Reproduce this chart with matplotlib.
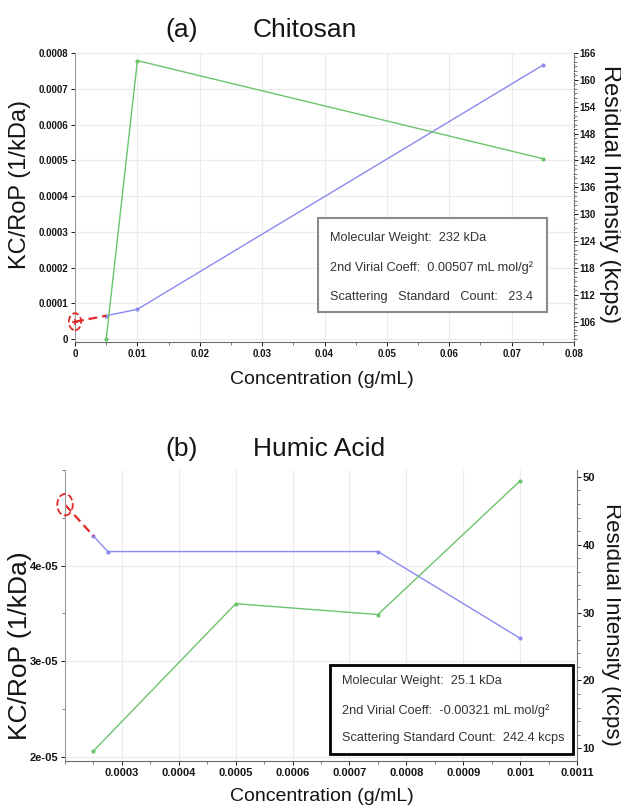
import matplotlib

matplotlib.use("Agg")
import matplotlib.pyplot as plt  # noqa: E402
from matplotlib.patches import Rectangle  # noqa: E402
from matplotlib.path import Path  # noqa: E402
from matplotlib.ticker import AutoMinorLocator  # noqa: E402
from matplotlib.transforms import Affine2D  # noqa: E402

plt.rcParams["font.family"] = ["Liberation Sans", "DejaVu Sans"]

# ---- (a) Chitosan -------------------------------------------------------
A_CONC_KC = [0.005, 0.01, 0.075]
A_KC = [0.0000652, 0.000083, 0.000766]          # KC/RoP, left axis
A_CONC_RES = [0.005, 0.01, 0.075]
A_RES = [102.1, 164.3, 142.4]                   # residual intensity, right axis
A_INTERCEPT = [0.0, 0.0000484]
A_XTICKS = [0, 0.01, 0.02, 0.03, 0.04, 0.05, 0.06, 0.07, 0.08]
A_XLABELS = ["0", "0.01", "0.02", "0.03", "0.04", "0.05", "0.06", "0.07", "0.08"]
A_YTICKS = [0, 0.0001, 0.0002, 0.0003, 0.0004, 0.0005, 0.0006, 0.0007, 0.0008]
A_YLABELS = ["0", "0.0001", "0.0002", "0.0003", "0.0004", "0.0005", "0.0006",
             "0.0007", "0.0008"]
A_RTICKS = [106, 112, 118, 124, 130, 136, 142, 148, 154, 160, 166]
A_INFO = ["Molecular Weight:  232 kDa",
          "2nd Virial Coeff:  0.00507 mL mol/g\u00b2",
          "Scattering   Standard   Count:   23.4"]

# ---- (b) Humic acid -----------------------------------------------------
B_CONC_KC = [0.00025, 0.000275, 0.00075, 0.001]
B_KC = [4.31e-05, 4.147e-05, 4.147e-05, 3.24e-05]
B_CONC_RES = [0.00025, 0.0005, 0.00075, 0.001]
B_RES = [9.6, 31.3, 29.7, 49.4]
B_INTERCEPT = [0.0002, 4.637e-05]
B_XTICKS = [0.0003, 0.0004, 0.0005, 0.0006, 0.0007, 0.0008, 0.0009, 0.001, 0.0011]
B_XLABELS = ["0.0003", "0.0004", "0.0005", "0.0006", "0.0007", "0.0008",
             "0.0009", "0.001", "0.0011"]
B_YTICKS = [2e-05, 3e-05, 4e-05]
B_YLABELS = ["2e-05", "3e-05", "4e-05"]
B_RTICKS = [10, 20, 30, 40, 50]
B_INFO = ["Molecular Weight:  25.1 kDa",
          "2nd Virial Coeff:  -0.00321 mL mol/g\u00b2",
          "Scattering Standard Count:  242.4 kcps"]

BLUE = "#8a8af0"
GREEN = "#6cc46c"
RED = "#e02a2a"
TXT = "#151515"

ELLIPSE = Path.unit_circle().transformed(Affine2D().scale(0.72, 1.0))


def style_ticks(ax, xt, xl, yt, yl, size=7):
    ax.set_xticks(xt, xl, fontsize=size, fontweight="bold")
    ax.set_yticks(yt, yl, fontsize=size, fontweight="bold")
    ax.tick_params(direction="out", length=3, width=0.7, pad=2, colors=TXT)
    ax.tick_params(which="minor", length=2, width=0.6, color="#666")
    ax.grid(True, color="#ececec", lw=0.8)
    ax.spines["top"].set_visible(False)
    ax.spines["right"].set_visible(False)
    ax.spines["left"].set_color("#9a9a9a")
    ax.spines["bottom"].set_color("#6a6a6a")


def info_box(ax, rect, text_x, text_ys, lines, edge, lw):
    x0, y0, x1, y1 = rect
    ax.add_patch(Rectangle((x0, y0), x1 - x0, y1 - y0, transform=ax.transAxes,
                           facecolor="white", edgecolor=edge, lw=lw, zorder=6))
    for y, s in zip(text_ys, lines):
        ax.text(text_x, y, s, transform=ax.transAxes, fontsize=9.2,
                color="#333", va="center", ha="left", zorder=7)


fig = plt.figure(figsize=(6.21, 8.07), dpi=100)

# ---------------------------- panel (a) ----------------------------------
ax = fig.add_axes([0.1208, 0.5766, 0.8035, 0.3577])
ax.plot(A_CONC_KC, A_KC, color=BLUE, lw=1.0, marker="o", ms=2)
ax.plot([A_INTERCEPT[0], A_CONC_KC[0]], [A_INTERCEPT[1], A_KC[0]], color=RED,
        lw=1.6, dashes=(4, 2.2))
ax.scatter([A_INTERCEPT[0]], [A_INTERCEPT[1]], s=150, marker=ELLIPSE,
           facecolors="none", edgecolors=RED, linewidths=1.3, linestyles="--",
           clip_on=False, zorder=5)
ax.plot([A_INTERCEPT[0]], [A_INTERCEPT[1]], "+", color=RED, ms=5, mew=1.2,
        clip_on=False, zorder=5)
ax.set_xlim(0, 0.08)
ax.set_ylim(-0.0000075, 0.0008)
style_ticks(ax, A_XTICKS, A_XLABELS, A_YTICKS, A_YLABELS)
ax.xaxis.set_minor_locator(AutoMinorLocator(2))
ax.set_xlabel("Concentration (g/mL)", fontsize=14, color=TXT)
ax.xaxis.set_label_coords(0.495, -0.101)
ax.set_ylabel("KC/RoP (1/kDa)", fontsize=17, color=TXT)
ax.yaxis.set_label_coords(-0.088, 0.543)

ax2 = ax.twinx()
ax2.plot(A_CONC_RES, A_RES, color=GREEN, lw=1.0, marker="o", ms=2)
ax2.set_ylim(101.5, 166)
ax2.set_yticks(A_RTICKS, [str(v) for v in A_RTICKS], fontsize=7,
               fontweight="bold")
ax2.yaxis.set_minor_locator(AutoMinorLocator(6))
ax2.tick_params(direction="out", length=3, width=0.7, pad=1, colors=TXT)
ax2.tick_params(which="minor", length=2, width=0.6, color="#666")
for s in ("top", "left", "bottom"):
    ax2.spines[s].set_visible(False)
ax2.spines["right"].set_linestyle(":")
ax2.spines["right"].set_color("#555")
ax2.set_ylabel("Residual Intensity (kcps)", fontsize=17, color=TXT,
               rotation=-90, va="center")
ax2.yaxis.set_label_coords(1.072, 0.512)
info_box(ax2, (0.487, 0.103, 0.946, 0.4285), 0.511, [0.359, 0.255, 0.155],
         A_INFO, "#8a8a8a", 1.5)

fig.text(0.266, 0.963, "(a)", fontsize=19, va="center", color=TXT)
fig.text(0.407, 0.963, "Chitosan", fontsize=19, va="center", color=TXT)

# ---------------------------- panel (b) ----------------------------------
bx = fig.add_axes([0.1047, 0.0574, 0.8245, 0.3602])
bx.plot(B_CONC_KC, B_KC, color=BLUE, lw=1.0, marker="o", ms=2)
bx.plot([B_INTERCEPT[0], B_CONC_KC[0]], [B_INTERCEPT[1], B_KC[0]], color=RED,
        lw=1.6, dashes=(4, 2.2))
bx.scatter([B_INTERCEPT[0]], [B_INTERCEPT[1]], s=240, marker=ELLIPSE,
           facecolors="none", edgecolors=RED, linewidths=1.3, linestyles="--",
           clip_on=False, zorder=5)
bx.set_xlim(0.0002, 0.0011)
bx.set_ylim(1.96e-05, 5.0e-05)
style_ticks(bx, B_XTICKS, B_XLABELS, B_YTICKS, B_YLABELS, size=8)
bx.xaxis.set_minor_locator(AutoMinorLocator(2))
bx.yaxis.set_minor_locator(AutoMinorLocator(2))
bx.set_xlabel("Concentration (g/mL)", fontsize=14, color=TXT)
bx.xaxis.set_label_coords(0.501, -0.094)
bx.set_ylabel("KC/RoP (1/kDa)", fontsize=19, color=TXT)
bx.yaxis.set_label_coords(-0.064, 0.395)

bx2 = bx.twinx()
bx2.plot(B_CONC_RES, B_RES, color=GREEN, lw=1.0, marker="o", ms=2)
bx2.set_ylim(8.17, 51.0)
bx2.set_yticks(B_RTICKS, [str(v) for v in B_RTICKS], fontsize=8,
               fontweight="bold")
bx2.yaxis.set_minor_locator(AutoMinorLocator(5))
bx2.tick_params(direction="out", length=3, width=0.7, pad=1, colors=TXT)
bx2.tick_params(which="minor", length=2, width=0.6, color="#666")
for s in ("top", "left", "bottom"):
    bx2.spines[s].set_visible(False)
bx2.spines["right"].set_color("#777")
bx2.set_ylabel("Residual Intensity (kcps)", fontsize=16, color=TXT,
               rotation=-90, va="center")
bx2.yaxis.set_label_coords(1.068, 0.470)
info_box(bx2, (0.5176, 0.022, 0.992, 0.329), 0.541, [0.274, 0.174, 0.078],
         B_INFO, "black", 2.0)

fig.text(0.266, 0.4436, "(b)", fontsize=19, va="center", color=TXT)
fig.text(0.407, 0.4436, "Humic Acid", fontsize=19, va="center", color=TXT)

fig.savefig("out.png", dpi=100)
plt.close(fig)
